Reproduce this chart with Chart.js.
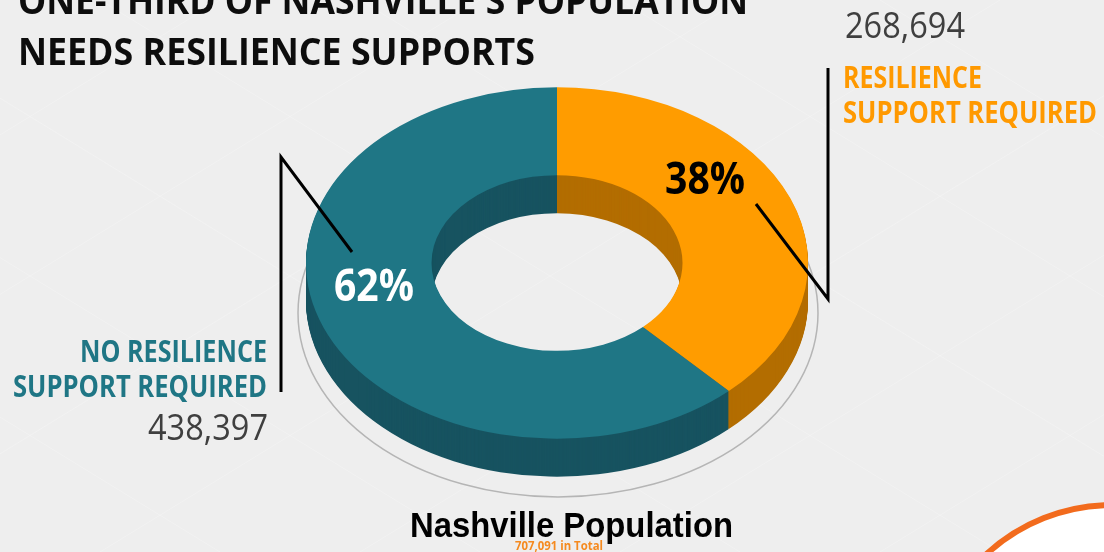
<!DOCTYPE html>
<html>
<head>
<meta charset="utf-8">
<title>Nashville Population</title>
<script src="https://cdn.jsdelivr.net/npm/chart.js@4.4.1/dist/chart.umd.min.js"></script>
<style>
  html, body { margin: 0; padding: 0; background: #eeeeee; }
  #wrap { position: relative; width: 1104px; height: 552px; }
</style>
</head>
<body>
<div id="wrap"><canvas id="popChart"></canvas></div>
<script>
// Population split
const categories = ['RESILIENCE SUPPORT REQUIRED', 'NO RESILIENCE SUPPORT REQUIRED'];
const population = [268694, 438397];
const faceColors = ['#ff9c00', '#1f7685'];
const sideColors = ['#b36d00', '#175360'];

const titleLines = ["ONE-THIRD OF NASHVILLE'S POPULATION", 'NEEDS RESILIENCE SUPPORTS'];
const chartTitle = 'Nashville Population';

const TILT = 0.70;   // vertical squash of the ring
const DEPTH = 38;    // wall height in px

const total = population.reduce((a, b) => a + b, 0);
const fmt = n => n.toLocaleString('en-US');
const pct = n => Math.round(n / total * 100) + '%';

// squeeze text horizontally to a fixed width
function fitText(ctx, text, x, y, w, align) {
    const m = ctx.measureText(text).width;
    ctx.save();
    ctx.textAlign = 'left';
    ctx.translate(align === 'right' ? x - w : x, y);
    ctx.scale(w / m, 1);
    ctx.fillText(text, 0, 0);
    ctx.restore();
}

function project(ctx, cx, cy, drop) {
    ctx.translate(cx, cy + drop);
    ctx.scale(1, TILT);
    ctx.translate(-cx, -cy);
}

function ringPath(ctx, arc) {
    const p = arc.getProps(['x', 'y', 'startAngle', 'endAngle', 'innerRadius', 'outerRadius']);
    ctx.beginPath();
    ctx.arc(p.x, p.y, p.outerRadius, p.startAngle, p.endAngle);
    ctx.arc(p.x, p.y, p.innerRadius, p.endAngle, p.startAngle, true);
    ctx.closePath();
}

function line(ctx, pts) {
    ctx.beginPath();
    ctx.moveTo(pts[0][0], pts[0][1]);
    for (let i = 1; i < pts.length; i++) ctx.lineTo(pts[i][0], pts[i][1]);
    ctx.stroke();
}

const backdrop = {
    id: 'backdrop',
    beforeDraw(chart) {
        const ctx = chart.ctx;
        ctx.save();
        ctx.fillStyle = '#eeeeee';
        ctx.fillRect(0, 0, chart.width, chart.height);
        // faint lattice
        ctx.strokeStyle = 'rgba(255,255,255,0.22)';
        ctx.lineWidth = 1;
        for (let k = -1200; k < 2400; k += 260) {
            line(ctx, [[k, 0], [k + 900, 552]]);
            line(ctx, [[k, 552], [k + 900, 0]]);
        }
        // plate outline under the ring
        ctx.strokeStyle = '#b5b5b5';
        ctx.lineWidth = 1.5;
        ctx.beginPath();
        ctx.ellipse(558, 313, 260, 184, 0, 0, Math.PI * 2);
        ctx.stroke();
        ctx.restore();
    }
};

const ring3d = {
    id: 'ring3d',
    beforeDatasetsDraw(chart) {
        const ctx = chart.ctx;
        const meta = chart.getDatasetMeta(0);
        const cx = meta.data[0].x, cy = meta.data[0].y;
        // walls: stacked copies of the ring, darker
        for (let d = DEPTH; d >= 1; d--) {
            meta.data.forEach((arc, i) => {
                ctx.save();
                project(ctx, cx, cy, d);
                ringPath(ctx, arc);
                ctx.fillStyle = sideColors[i];
                ctx.fill();
                ctx.restore();
            });
        }
        ctx.save();
        project(ctx, cx, cy, 0);
    },
    afterDatasetsDraw(chart) {
        chart.ctx.restore();
    }
};

const labelShift = [[-27, -33], [-8, -23]];
const pctColors = ['#000000', '#ffffff'];

const annotations = {
    id: 'annotations',
    afterDraw(chart) {
        const ctx = chart.ctx;
        const meta = chart.getDatasetMeta(0);
        const cy = meta.data[0].y;
        ctx.save();
        ctx.textBaseline = 'alphabetic';

        // title
        ctx.fillStyle = '#0d0d0d';
        ctx.font = 'bold 38px "Open Sans"';
        fitText(ctx, titleLines[0], 18, 14, 730);
        fitText(ctx, titleLines[1], 18, 65, 517);

        // percentage labels on the ring
        ctx.font = 'bold 44px "Open Sans"';
        ctx.textBaseline = 'middle';
        meta.data.forEach((arc, i) => {
            const p = arc.tooltipPosition();
            const x = p.x + labelShift[i][0];
            const y = cy + (p.y - cy) * TILT + labelShift[i][1];
            ctx.fillStyle = pctColors[i];
            fitText(ctx, pct(population[i]), x - 40, y, 80);
        });
        ctx.textBaseline = 'alphabetic';

        // leader lines
        ctx.strokeStyle = '#000000';
        ctx.lineWidth = 3;
        line(ctx, [[828, 68], [828, 299], [756, 204]]);
        line(ctx, [[281, 392], [281, 157], [352, 252]]);

        // orange category
        ctx.fillStyle = '#3f3f3f';
        ctx.font = '37px "Open Sans"';
        fitText(ctx, fmt(population[0]), 845, 38, 120);
        ctx.fillStyle = '#ff9900';
        ctx.font = 'bold 30px "Open Sans"';
        fitText(ctx, 'RESILIENCE', 843, 88, 139);
        fitText(ctx, 'SUPPORT REQUIRED', 843, 123, 254);

        // teal category
        ctx.fillStyle = '#1f7685';
        fitText(ctx, 'NO RESILIENCE', 267, 362, 187, 'right');
        fitText(ctx, 'SUPPORT REQUIRED', 267, 397, 254, 'right');
        ctx.fillStyle = '#3f3f3f';
        ctx.font = '37px "Open Sans"';
        fitText(ctx, fmt(population[1]), 268, 440, 120, 'right');

        // chart caption
        ctx.fillStyle = '#000000';
        ctx.font = 'bold 35px "Liberation Sans"';
        fitText(ctx, chartTitle, 410, 537, 323);
        ctx.fillStyle = '#f58a1f';
        ctx.font = 'bold 12px "Open Sans"';
        fitText(ctx, fmt(total) + ' in Total', 515, 550, 88);

        // corner badge
        ctx.beginPath();
        ctx.arc(1112, 690, 185, 0, Math.PI * 2);
        ctx.fillStyle = '#ffffff';
        ctx.fill();
        ctx.lineWidth = 6;
        ctx.strokeStyle = '#f26b1d';
        ctx.stroke();
        ctx.restore();
    }
};

new Chart(document.getElementById('popChart'), {
    type: 'doughnut',
    data: {
        labels: categories,
        datasets: [{
            data: population,
            backgroundColor: faceColors,
            borderWidth: 0,
            clip: false
        }]
    },
    options: {
        responsive: true,
        maintainAspectRatio: false,
        animation: false,
        events: [],
        cutout: '50%',
        rotation: 0,
        layout: { padding: { left: 306, right: 296, top: 12, bottom: 38 } },
        plugins: {
            legend: { display: false },
            tooltip: { enabled: false }
        }
    },
    plugins: [backdrop, ring3d, annotations]
});
</script>
</body>
</html>
